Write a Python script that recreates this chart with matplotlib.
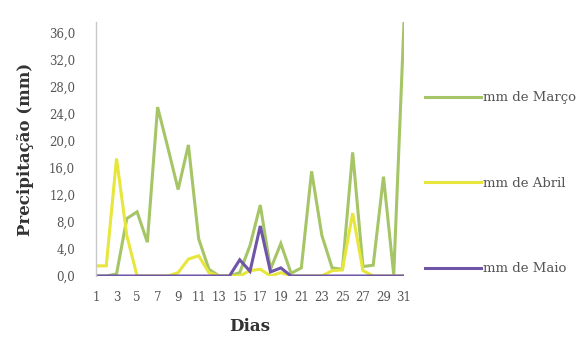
import matplotlib
matplotlib.use("Agg")
import matplotlib.pyplot as plt
import numpy as np

dias = list(range(1, 32))
marco = [0.0, 0.0, 0.3, 8.5, 9.5, 5.0, 25.0, 19.0, 12.8, 19.4, 5.5, 1.0, 0.0, 0.0, 0.5,
         4.5, 10.5, 1.0, 4.8, 0.4, 1.2, 15.5, 6.0, 1.2, 1.0, 18.3, 1.4, 1.6, 14.7, 0.2, 37.6]
abril = [1.5, 1.5, 17.4, 6.0, 0.0, 0.0, 0.0, 0.0, 0.5, 2.5, 3.0, 0.5, 0.0, 0.0, 0.0,
         0.8, 1.0, 0.0, 0.5, 0.0, 0.0, 0.0, 0.0, 0.8, 0.9, 9.3, 0.8, 0.0, 0.0, 0.0, 0.0]
maio = [0.0, 0.0, 0.0, 0.0, 0.0, 0.0, 0.0, 0.0, 0.0, 0.0, 0.0, 0.0, 0.0, 0.0, 2.4,
        0.7, 7.4, 0.6, 1.2, 0.0, 0.0, 0.0, 0.0, 0.0, 0.0, 0.0, 0.0, 0.0, 0.0, 0.0, 0.0]
series_labels = ["mm de Março", "mm de Abril", "mm de Maio"]
yticks = [0, 4, 8, 12, 16, 20, 24, 28, 32, 36]
xticks = list(range(1, 32, 2))

plt.rcParams['font.family'] = ['DejaVu Serif', 'Liberation Serif']

W, H = 585, 342
fig = plt.figure(figsize=(W / 100, H / 100), dpi=100)
ax = fig.add_axes([96 / W, 1 - 276 / H, (404 - 96) / W, (276 - 22) / H])

ax.plot(dias, marco, color="#a5c567", lw=2.2, label=series_labels[0], solid_joinstyle="miter")
ax.plot(dias, abril, color="#e6e63c", lw=2.2, label=series_labels[1], solid_joinstyle="miter")
ax.plot(dias, maio, color="#6e55a8", lw=2.2, label=series_labels[2], solid_joinstyle="miter")

ax.set_xlim(1, 31)
ax.set_ylim(0, 37.6)
ax.set_yticks(yticks)
ax.set_yticklabels([f"{v:.1f}".replace(".", ",") for v in yticks], fontsize=8.5, color="#555555")
ax.set_xticks(xticks)
ax.set_xticklabels([str(v) for v in xticks], fontsize=8.5, color="#555555")
ax.tick_params(axis="y", length=0, pad=15)
ax.tick_params(axis="x", length=0, pad=11)

for s in ["top", "right", "bottom"]:
    ax.spines[s].set_visible(False)
ax.spines["left"].set_color("#c8c8c8")
ax.spines["left"].set_linewidth(1.0)

ax.set_ylabel("Precipitação (mm)", fontsize=12, fontweight="bold", color="#333333", labelpad=11)
ax.set_xlabel("Dias", fontsize=12, fontweight="bold", color="#333333", labelpad=10)

leg = ax.legend(loc="upper left", bbox_to_anchor=(420 / W, 1 - 86 / H), bbox_transform=fig.transFigure,
                frameon=False, fontsize=9.5, labelspacing=5.5, handlelength=4.2, handletextpad=0.2,
                borderaxespad=0)
for t in leg.get_texts():
    t.set_color("#555555")

fig.savefig("out.png", dpi=100)
